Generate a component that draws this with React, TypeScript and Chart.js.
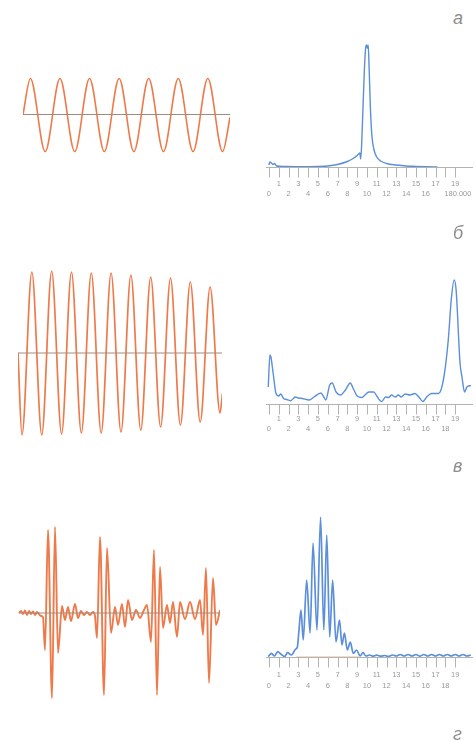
import React, { useEffect, useRef } from "react";
import { Chart, registerables } from "chart.js";

Chart.register(...registerables);

const ORANGE = "#ee7a4b";
const WAVE_AXIS = "#a48a7a";
const BLUE = "#5b8fd9";
const AXIS_GRAY = "#b3b3b3";
const LABEL_GRAY = "#9a9a9a";
const FAINT_ORANGE = "#f6cfb4";

// ---------- Panel а ----------
// time in half-periods, amplitude in arbitrary units
const waveATimes = [0, 0.5, 1.5, 2.5, 3.5, 4.5, 5.5, 6.5, 7.5, 8.5, 9.5, 10.5, 11.5, 12.5, 13.5, 14];
const waveAValues = [0, 36, -37, 36, -37, 36, -37, 36, -37, 36, -37, 36, -37, 36, -37, -3];

const specAFreq = [0, 0.1, 0.25, 0.4, 0.55, 0.8, 1.5, 3, 5, 6, 7, 8, 8.6, 9.0, 9.15, 9.28, 9.36, 9.45, 9.6, 9.75, 9.88, 9.95, 10.05, 10.13, 10.22, 10.35, 10.5, 10.7, 11.0, 11.4, 12, 13, 14, 15, 16, 17.2];
const specAAmp = [2, 5, 4, 2.5, 3.5, 1, 0.5, 0.3, 0.5, 1, 2.5, 5.5, 8.5, 11.5, 13, 14, 8, 20, 60, 100, 120, 122, 119, 122, 100, 60, 32, 18, 10, 6, 3.5, 2, 1, 0.6, 0.3, 0];

// ---------- Panel б ----------
const waveBTimes = [-0.4, 0, 1, 2, 3, 4, 5, 6, 7, 8, 9, 10, 11, 12, 13, 14, 15, 16, 17, 18, 19, 20, 20.25];
const waveBValues = [0, -82, 81, -82, 82, -81, 81, -80, 80, -80, 80, -79, 78, -77, 76, -74, 75, -72, 71, -69, 66, -60, -40];

const specBFreq = [-0.07, 0.1, 0.2, 0.44, 0.71, 1.0, 1.2, 1.5, 1.8, 2.2, 2.7, 3.0, 3.4, 4.1, 4.6, 5.3, 5.6, 5.8, 6.2, 6.45, 6.85, 7.3, 7.8, 8.3, 8.6, 9.0, 9.5, 9.8, 10.2, 10.7, 11.0, 11.5, 11.9, 12.2, 12.5, 12.9, 13.2, 13.5, 13.9, 14.4, 14.9, 15.3, 15.7, 16.1, 16.6, 17.3, 17.8, 18.3, 18.6, 18.9, 19.1, 19.5, 19.7, 19.96, 20.2, 20.6];
const specBAmp = [17, 49, 47, 30, 11, 8, 10, 5.5, 4.5, 3.3, 7, 6, 5.5, 4, 7, 11, 7, 4, 19, 21, 12, 9, 14, 21, 15.5, 8, 6.5, 9, 12, 12, 8, 2.5, 7, 6.5, 9, 7, 9, 7, 10, 9, 10.5, 7, 2.5, 7, 10.5, 10.5, 24, 64, 104, 124, 114, 41, 27, 12, 17, 18.5];

// ---------- Panel в ----------
// time in ms, amplitude in arbitrary units
const waveCTimes = [1, 3, 5, 7, 9, 11, 13, 15, 17, 19, 21, 23, 25, 27, 30, 34, 37, 40, 44, 47, 50, 53, 57, 60, 63, 66, 69, 72, 75, 77, 79, 82, 86, 89, 93, 97, 100, 104, 107, 110, 114, 118, 122, 126, 129, 133, 136, 139, 142, 145, 149, 152, 155, 159, 162, 167, 172, 177, 182, 185, 188, 191, 195, 198, 202];
const waveCValues = [0, 2, -1, 2.5, -2, 2, -1, 1.5, -2, 1, -1, -3, -4, -37, 83, -85, 86, -40, 7, -7, 6, -8, 9, -5, 2, -2, 1, -2, 1, -3, -25, 76, -82, 65, -20, 6, -12, 9, -14, 13, -7, 3, -5, 3, 8, -29, 63, -82, 46, -15, 8, -10, 11, -24, 11, -6, 11, -6, 13, -22, 45, -70, 35, -12, 3];

const specCFreq = [-0.07, 0.27, 0.55, 0.9, 1.2, 1.6, 1.9, 2.3, 2.7, 2.9, 3.05, 3.27, 3.5, 3.85, 4.2, 4.5, 4.9, 5.27, 5.6, 5.9, 6.2, 6.5, 6.84, 7.2, 7.45, 7.7, 8.0, 8.3, 8.6, 8.95, 9.3, 9.6, 9.9, 10.3, 10.6, 11.0, 11.4, 11.8, 12.2, 12.6, 13.0, 13.4, 13.8, 14.2, 14.6, 15.0, 15.4, 15.8, 16.2, 16.6, 17.0, 17.4, 17.8, 18.2, 18.6, 19.0, 19.4, 19.8, 20.2, 20.6];
const specCAmp = [0.5, 3.7, 1, 5.3, 3, 0.5, 4.3, 2, 7.7, 10, 25, 47, 17, 77, 24, 114, 27, 140, 27, 122, 20, 77, 15, 37, 12, 24, 7, 15, 3.7, 7, 1, 4.3, 1, 2, 0.8, 1.8, 0.8, 1.5, 0.6, 2, 1, 2.5, 1, 2.5, 1, 2.5, 0.8, 2.5, 1, 2.5, 1, 2.5, 1, 2.5, 1, 2.5, 1, 2.5, 1, 2];
const specCUnderlayFreq = [2.8, 9.2];

// ---------- frequency axis ----------
const freqTicks = [0, 1, 2, 3, 4, 5, 6, 7, 8, 9, 10, 11, 12, 13, 14, 15, 16, 17, 18, 19];
const freqLabelsA = ["0", "1", "2", "3", "4", "5", "6", "7", "8", "9", "10", "11", "12", "13", "14", "15", "16", "17", "180.000", "19"];
const freqLabelsBC = ["0", "1", "2", "3", "4", "5", "6", "7", "8", "9", "10", "11", "12", "13", "14", "15", "16", "17", "18", "19"];

const panelLetters = ["а", "б", "в", "г"];

const LABEL_SPACE = 36;

function pts(xs: number[], ys: number[]) {
  return xs.map((x, i) => ({ x, y: ys[i] }));
}

function makeFreqAxisPlugin(labels: string[], oddOffset: number, evenOffset: number, tickLen: number) {
  return {
    id: "freqAxis",
    beforeDatasetsDraw(chart: any) {
      const { ctx, chartArea, scales } = chart;
      const y0 = Math.round(chartArea.bottom) + 0.5;
      ctx.save();
      ctx.strokeStyle = AXIS_GRAY;
      ctx.lineWidth = 1;
      ctx.beginPath();
      ctx.moveTo(chartArea.left, y0);
      ctx.lineTo(chartArea.right, y0);
      freqTicks.forEach((v) => {
        const px = Math.round(scales.x.getPixelForValue(v)) + 0.5;
        ctx.moveTo(px, y0);
        ctx.lineTo(px, y0 + tickLen);
      });
      ctx.stroke();
      ctx.fillStyle = LABEL_GRAY;
      ctx.font = "7.5px 'Liberation Sans', Arial, sans-serif";
      ctx.textBaseline = "middle";
      freqTicks.forEach((v, i) => {
        const px = scales.x.getPixelForValue(v);
        const text = labels[i];
        const odd = v % 2 === 1;
        const ty = y0 + (odd ? oddOffset : evenOffset);
        if (text.length > 3) {
          ctx.textAlign = "left";
          ctx.fillText(text, px - 1, ty);
        } else {
          ctx.textAlign = "center";
          ctx.fillText(text, px, ty);
        }
      });
      ctx.restore();
    },
  };
}

type PanelProps = {
  left: number;
  top: number;
  width: number;
  height: number;
  build: () => any;
};

function ChartPanel({ left, top, width, height, build }: PanelProps) {
  const ref = useRef<HTMLCanvasElement | null>(null);
  useEffect(() => {
    if (!ref.current) return;
    const chart = new Chart(ref.current, build());
    return () => chart.destroy();
  }, []);
  return (
    <canvas
      ref={ref}
      width={width}
      height={height}
      style={{ position: "absolute", left, top, width, height, display: "block" }}
    />
  );
}

function baseOptions(xMin: number, xMax: number, yMin: number, yMax: number, bottomPad: number) {
  return {
    animation: false,
    responsive: false,
    devicePixelRatio: 1,
    events: [],
    layout: { padding: { left: 0, right: 0, top: 0, bottom: bottomPad } },
    plugins: { legend: { display: false }, tooltip: { enabled: false }, title: { display: false } },
    scales: {
      x: { type: "linear", min: xMin, max: xMax, display: false },
      y: { type: "linear", min: yMin, max: yMax, display: false },
    },
  };
}

function waveConfig(times: number[], values: number[], xMin: number, xMax: number, yLim: number, lineW: number) {
  return {
    type: "line",
    data: {
      datasets: [
        {
          data: [
            { x: times[0], y: 0 },
            { x: times[times.length - 1], y: 0 },
          ],
          borderColor: WAVE_AXIS,
          borderWidth: 1,
          pointRadius: 0,
          fill: false,
        },
        {
          data: pts(times, values),
          borderColor: ORANGE,
          borderWidth: lineW,
          pointRadius: 0,
          fill: false,
          cubicInterpolationMode: "monotone",
        },
      ],
    },
    options: baseOptions(xMin, xMax, -yLim, yLim, 0),
  };
}

const PX_PER_FREQ = 9.8;
const SPEC_LEFT = 266;
const SPEC_WIDTH = 207;
const FREQ_MIN = -0.3;
const FREQ_MAX = FREQ_MIN + SPEC_WIDTH / PX_PER_FREQ;

function specConfig(
  freq: number[],
  amp: number[],
  areaH: number,
  labels: string[],
  oddOff: number,
  evenOff: number,
  lineW: number,
  underlay?: number[]
) {
  const datasets: any[] = [
    {
      data: pts(freq, amp),
      borderColor: BLUE,
      borderWidth: lineW,
      pointRadius: 0,
      fill: false,
      cubicInterpolationMode: "monotone",
    },
  ];
  if (underlay) {
    datasets.push({
      data: underlay.map((x) => ({ x, y: 0 })),
      borderColor: FAINT_ORANGE,
      borderWidth: 1.5,
      pointRadius: 0,
      fill: false,
    });
  }
  return {
    type: "line",
    data: { datasets },
    options: baseOptions(FREQ_MIN, FREQ_MAX, 0, areaH, LABEL_SPACE),
    plugins: [makeFreqAxisPlugin(labels, oddOff, evenOff, 10)],
  };
}

const letterStyle: React.CSSProperties = {
  position: "absolute",
  fontFamily: "'Liberation Sans', Arial, sans-serif",
  fontStyle: "italic",
  fontSize: 18,
  lineHeight: "18px",
  color: "#8d8d8d",
};

export default function App() {
  return (
    <div
      style={{
        position: "absolute",
        left: 0,
        top: 0,
        width: 476,
        height: 741,
        background: "#ffffff",
        overflow: "hidden",
      }}
    >
      {/* Row а */}
      <ChartPanel left={23} top={74} width={207} height={81} build={() => waveConfig(waveATimes, waveAValues, 0, 14, 40.5, 1.6)} />
      <ChartPanel
        left={SPEC_LEFT}
        top={40}
        width={SPEC_WIDTH}
        height={127 + LABEL_SPACE}
        build={() => specConfig(specAFreq, specAAmp, 127, freqLabelsA, 16, 26, 1.4)}
      />
      {/* Row б */}
      <ChartPanel left={18} top={267} width={204} height={172} build={() => waveConfig(waveBTimes, waveBValues, -0.4, 20.2, 86, 1.7)} />
      <ChartPanel
        left={SPEC_LEFT}
        top={275}
        width={SPEC_WIDTH}
        height={129 + LABEL_SPACE}
        build={() => specConfig(specBFreq, specBAmp, 129, freqLabelsBC, 14, 24, 1.4)}
      />
      {/* Row в */}
      <ChartPanel left={18} top={518} width={202} height={190} build={() => waveConfig(waveCTimes, waveCValues, 0, 202, 95, 1.9)} />
      <ChartPanel
        left={SPEC_LEFT}
        top={512}
        width={SPEC_WIDTH}
        height={145 + LABEL_SPACE}
        build={() => specConfig(specCFreq, specCAmp, 145, freqLabelsBC, 17, 28, 1.7, specCUnderlayFreq)}
      />
      {/* panel letters */}
      <div style={{ ...letterStyle, left: 453, top: 9 }}>{panelLetters[0]}</div>
      <div style={{ ...letterStyle, left: 453, top: 224 }}>{panelLetters[1]}</div>
      <div style={{ ...letterStyle, left: 453, top: 457 }}>{panelLetters[2]}</div>
      <div style={{ ...letterStyle, left: 453, top: 725 }}>{panelLetters[3]}</div>
    </div>
  );
}
